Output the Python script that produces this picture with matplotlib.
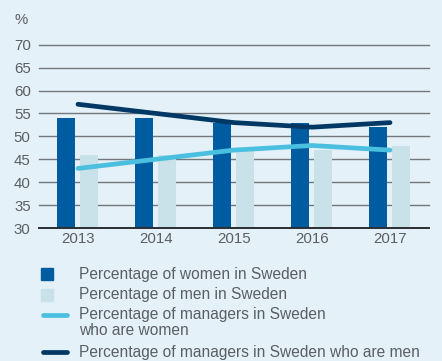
import matplotlib.pyplot as plt
import matplotlib.patches as mpatches
from matplotlib.lines import Line2D
import numpy as np

plt.rcParams['font.family'] = ['Liberation Sans', 'DejaVu Sans']

years = ['2013', '2014', '2015', '2016', '2017']
women_pct = [54, 54, 53, 53, 52]
men_pct = [46, 46, 47, 47, 48]
women_managers = [43, 45, 47, 48, 47]
men_managers = [57, 55, 53, 52, 53]

bg = '#e4f1f8'
c_women = '#005ca0'
c_men = '#c9e1e8'
c_wman = '#4bbfdf'
c_mman = '#003865'
txt = '#5a5f64'

fig = plt.figure(figsize=(4.42, 3.61), dpi=100, facecolor=bg)
ax = fig.add_axes([39 / 442, 1 - 228 / 361, 390 / 442, (228 - 44.7) / 361])
ax.set_facecolor(bg)

x = np.arange(len(years))
ax.bar(x - 0.15, women_pct, width=0.23, color=c_women, zorder=2)
ax.bar(x + 0.14, men_pct, width=0.23, color=c_men, zorder=2)
ax.plot(x, women_managers, color=c_wman, lw=3.4, solid_capstyle='round', zorder=3)
ax.plot(x, men_managers, color=c_mman, lw=3.4, solid_capstyle='round', zorder=3)

ax.set_xlim(-0.5, 4.5)
ax.set_ylim(30, 70)
for v in range(35, 75, 5):
    ax.axhline(v, color='#72777c', lw=1.0, zorder=1, clip_on=False)
ax.axhline(30, color='#2b2f33', lw=1.4, zorder=4, clip_on=False)

for s in ax.spines.values():
    s.set_visible(False)
ax.set_yticks(range(30, 75, 5))
ax.set_xticks(x)
ax.set_xticklabels(years)
ax.tick_params(axis='both', length=0, labelsize=10.8, labelcolor=txt)
ax.tick_params(axis='y', pad=6)
ax.tick_params(axis='x', pad=3)

fig.text(15 / 442, 1 - 20 / 361, '%', fontsize=10.8, color=txt, va='center')

# legend
rows = [
    (274, 'patch', c_women, 'Percentage of women in Sweden'),
    (295, 'patch', c_men, 'Percentage of men in Sweden'),
    (315, 'line', c_wman, 'Percentage of managers in Sweden\nwho are women'),
    (352, 'line', c_mman, 'Percentage of managers in Sweden who are men'),
]
for ypx, kind, col, label in rows:
    yf = 1 - ypx / 361
    if kind == 'patch':
        fig.add_artist(mpatches.Rectangle((41 / 442, yf - 6 / 361), 12 / 442, 12 / 361,
                                          transform=fig.transFigure, color=col))
    else:
        fig.add_artist(Line2D([43 / 442, 67 / 442], [yf, yf], transform=fig.transFigure,
                              color=col, lw=3.4, solid_capstyle='round'))
    if '\n' in label:
        fig.text(79 / 442, 1 - (ypx - 8.5) / 361, label, fontsize=11.2, color=txt,
                 va='top', linespacing=1.1)
    else:
        fig.text(79 / 442, yf, label, fontsize=11.2, color=txt, va='center')

fig.savefig('out.png', dpi=100, facecolor=bg)
